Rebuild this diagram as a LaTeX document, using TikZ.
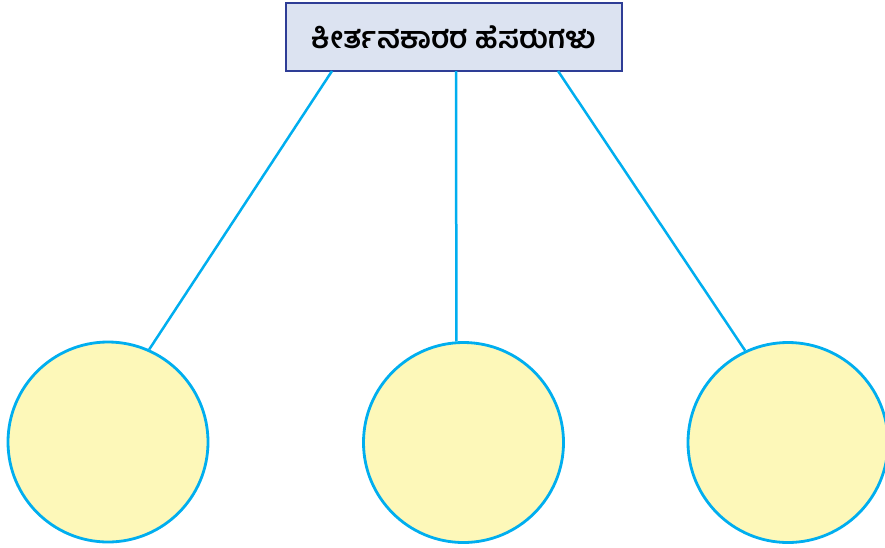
\documentclass[tikz,border=0pt]{standalone}
\usepackage{fontspec}
\newfontfamily\kanfont[Script=Kannada]{Hind Mysuru}
\definecolor{cyanline}{HTML}{00AEEF}
\definecolor{circfill}{HTML}{FDF8B9}
\definecolor{boxfill}{HTML}{DCE3F1}
\definecolor{boxdraw}{HTML}{2E3D96}
\begin{document}
\begin{tikzpicture}[x=1pt,y=-1pt,
  titlebox/.style={draw=boxdraw,line width=1.3pt,fill=boxfill,minimum width=336pt,minimum height=68pt,inner sep=0pt},
  bubble/.style={circle,draw=cyanline,line width=2.8pt,fill=circfill,minimum size=200pt,inner sep=0pt},
  link/.style={draw=cyanline,line width=2.5pt}]
\useasboundingbox (0,0) rectangle (885,547);
\node[titlebox] (t) at (454,37) {\kanfont\bfseries\fontsize{30}{34}\selectfont ಕೀರ್ತನಕಾರರ ಹೆಸರುಗಳು};
\node[bubble] (c1) at (108,442) {};
\node[bubble] (c2) at (463.5,442.5) {};
\node[bubble] (c3) at (788,442.5) {};
\coordinate (t1) at (332,71);
\coordinate (t2) at (456,71);
\coordinate (t3) at (558,71);
\draw[link] (t1) -- (c1.66.5);
\draw[link] (t2) -- (c2.94.3);
\draw[link] (t3) -- (c3.115);
\end{tikzpicture}
\end{document}
